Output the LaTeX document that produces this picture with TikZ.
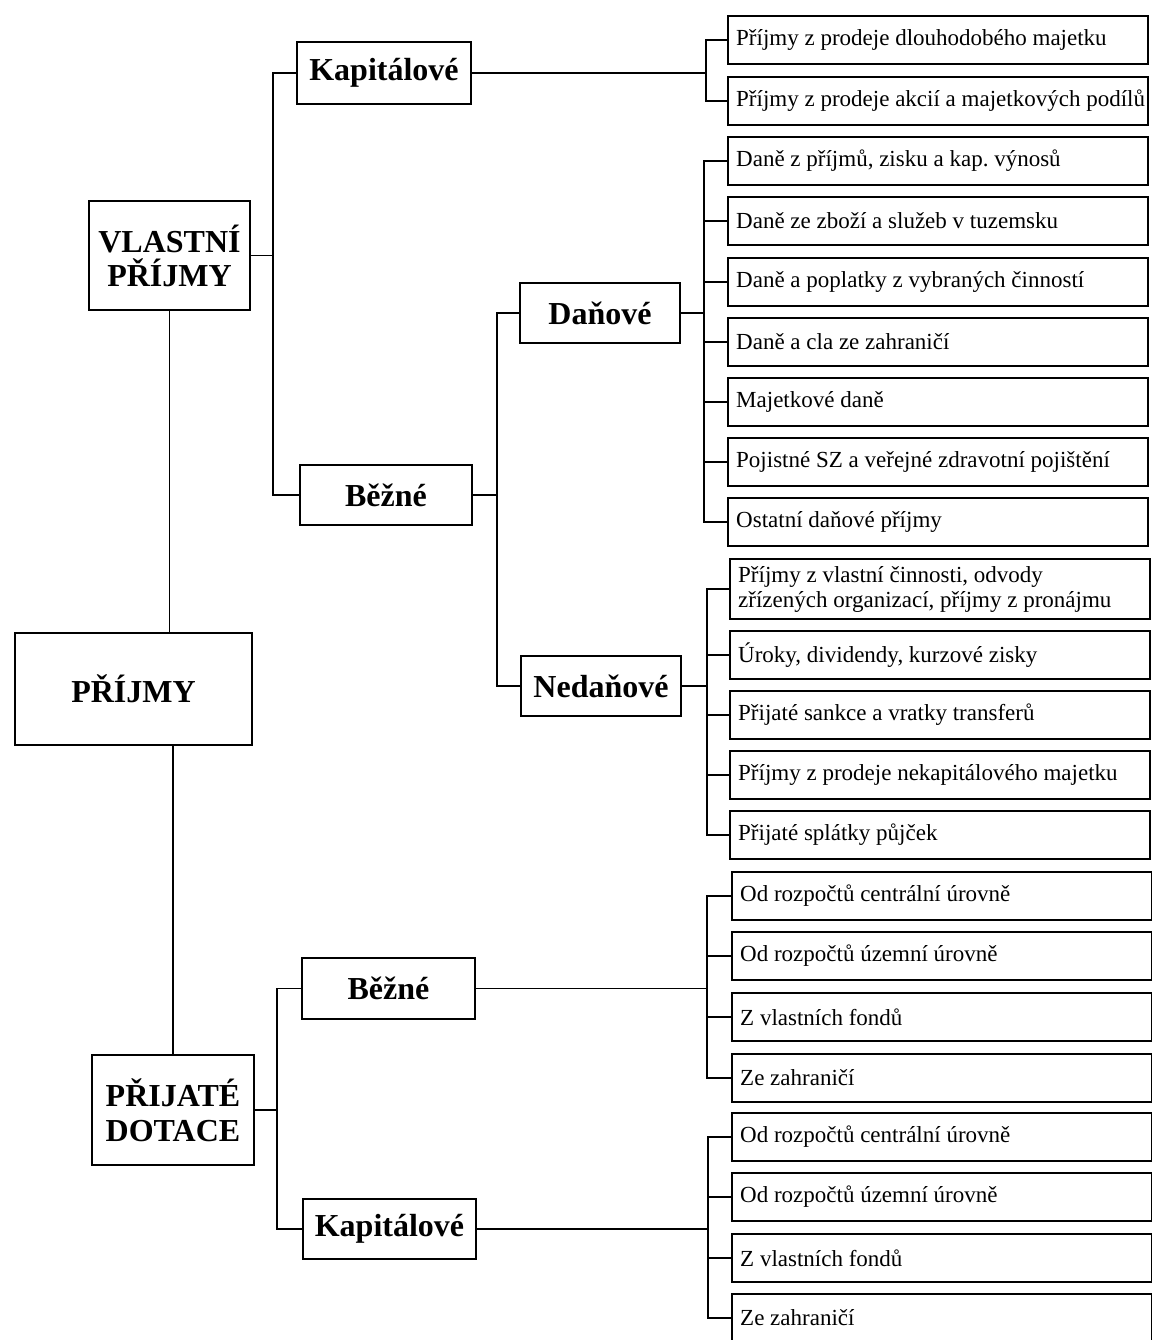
\documentclass[tikz,border=0pt]{standalone}
\usepackage{fontspec}
\setmainfont{Liberation Serif}
\frenchspacing
\begin{document}
\begin{tikzpicture}[x=0.5pt,y=-0.5pt,
  box/.style={draw,line width=1.2pt,inner sep=0pt,align=center,font=\bfseries\fontsize{16}{17}\selectfont},
  leaf/.style={draw,line width=1.2pt,anchor=west,minimum width=210pt,minimum height=24pt,text width=202pt,inner xsep=4pt,inner ysep=0pt,align=flush left,font=\fontsize{11.5}{12.5}\selectfont},
  conn/.style={line width=0.9pt}]
\useasboundingbox (0,0) rectangle (1152,1340);
% main boxes
\node[box,minimum width=118.5pt,minimum height=56pt] (prijmy) at (133.5,689) {PŘÍJMY};
\node[box,minimum width=80.5pt,minimum height=54.5pt] (vlastni) at (169.5,255.5) {VLASTNÍ\\PŘÍJMY};
\node[box,minimum width=81pt,minimum height=55pt,font=\bfseries\fontsize{16}{17.5}\selectfont] (dotace) at (173,1110) {PŘIJATÉ\\DOTACE};
\node[box,minimum width=87pt,minimum height=31pt] (kapA) at (384,73) {Kapitálové};
\node[box,minimum width=86pt,minimum height=30pt] (bezA) at (386,495) {Běžné};
\node[box,minimum width=80pt,minimum height=30pt] (danove) at (600,313) {Daňové};
\node[box,minimum width=80pt,minimum height=30pt] (nedanove) at (601,686) {Nedaňové};
\node[box,minimum width=86.5pt,minimum height=30.5pt] (bezB) at (388.5,988.5) {Běžné};
\node[box,minimum width=86.5pt,minimum height=30pt] (kapB) at (389.5,1229) {Kapitálové};
% leaves
\node[leaf] (k1) at (727,40) {Příjmy z prodeje dlouhodobého majetku};
\node[leaf] (k2) at (727,101) {\mbox{Příjmy z prodeje akcií a majetkových podílů}};
\node[leaf] (d1) at (727,161) {Daně z příjmů, zisku a kap. výnosů};
\node[leaf] (d2) at (727,221) {Daně ze zboží a služeb v tuzemsku};
\node[leaf] (d3) at (727,282) {Daně a poplatky z vybraných činností};
\node[leaf] (d4) at (727,342) {Daně a cla ze zahraničí};
\node[leaf] (d5) at (727,402) {Majetkové daně};
\node[leaf] (d6) at (727,462) {Pojistné SZ a veřejné zdravotní pojištění};
\node[leaf] (d7) at (727,522) {Ostatní daňové příjmy};
\node[leaf,minimum height=30pt] (n1) at (729,589) {Příjmy z vlastní činnosti, odvody\\zřízených organizací, příjmy z pronájmu};
\node[leaf] (n2) at (729,655) {Úroky, dividendy, kurzové zisky};
\node[leaf] (n3) at (729,715) {Přijaté sankce a vratky transferů};
\node[leaf] (n4) at (729,775) {Příjmy z prodeje nekapitálového majetku};
\node[leaf] (n5) at (729,835) {Přijaté splátky půjček};
\node[leaf] (b1) at (731,896) {Od rozpočtů centrální úrovně};
\node[leaf] (b2) at (731,956) {Od rozpočtů územní úrovně};
\node[leaf] (b3) at (731,1017) {Z vlastních fondů};
\node[leaf] (b4) at (731,1078) {Ze zahraničí};
\node[leaf] (c1) at (731,1137) {Od rozpočtů centrální úrovně};
\node[leaf] (c2) at (731,1197) {Od rozpočtů územní úrovně};
\node[leaf] (c3) at (731,1258) {Z vlastních fondů};
\node[leaf] (c4) at (731,1318) {Ze zahraničí};
% bus coordinates
\coordinate (busV) at (273,255.5);
\coordinate (busK) at (706,73);
\coordinate (busB) at (497,495);
\coordinate (busD) at (704,313);
\coordinate (busN) at (707,686);
\coordinate (busP) at (277,1110);
\coordinate (busBB) at (707,988.5);
\coordinate (busKB) at (708,1229);
% connectors
\draw[conn] (vlastni.south) -- (vlastni.south |- prijmy.north);
\draw[conn] (prijmy.south -| dotace.north) -- (dotace.north);
\draw[conn] (vlastni.east) -- (busV);
\draw[conn] (kapA.west) -| (busV) |- (bezA.west);
\draw[conn] (kapA.east) -- (busK);
\draw[conn] (k1.west) -| (busK) |- (k2.west);
\draw[conn] (bezA.east) -- (busB);
\draw[conn] (danove.west) -| (busB) |- (nedanove.west);
\draw[conn] (danove.east) -- (busD);
\draw[conn] (d1.west) -| (busD) |- (d7.west);
\foreach \i in {2,...,6} \draw[conn] (d\i.west) -- (busD |- d\i.west);
\draw[conn] (nedanove.east) -- (busN);
\draw[conn] (n1.west) -| (busN) |- (n5.west);
\foreach \i in {2,3,4} \draw[conn] (n\i.west) -- (busN |- n\i.west);
\draw[conn] (dotace.east) -- (busP);
\draw[conn] (bezB.west) -| (busP) |- (kapB.west);
\draw[conn] (bezB.east) -- (busBB);
\draw[conn] (b1.west) -| (busBB) |- (b4.west);
\foreach \i in {2,3} \draw[conn] (b\i.west) -- (busBB |- b\i.west);
\draw[conn] (kapB.east) -- (busKB);
\draw[conn] (c1.west) -| (busKB) |- (c4.west);
\foreach \i in {2,3} \draw[conn] (c\i.west) -- (busKB |- c\i.west);
\end{tikzpicture}
\end{document}
